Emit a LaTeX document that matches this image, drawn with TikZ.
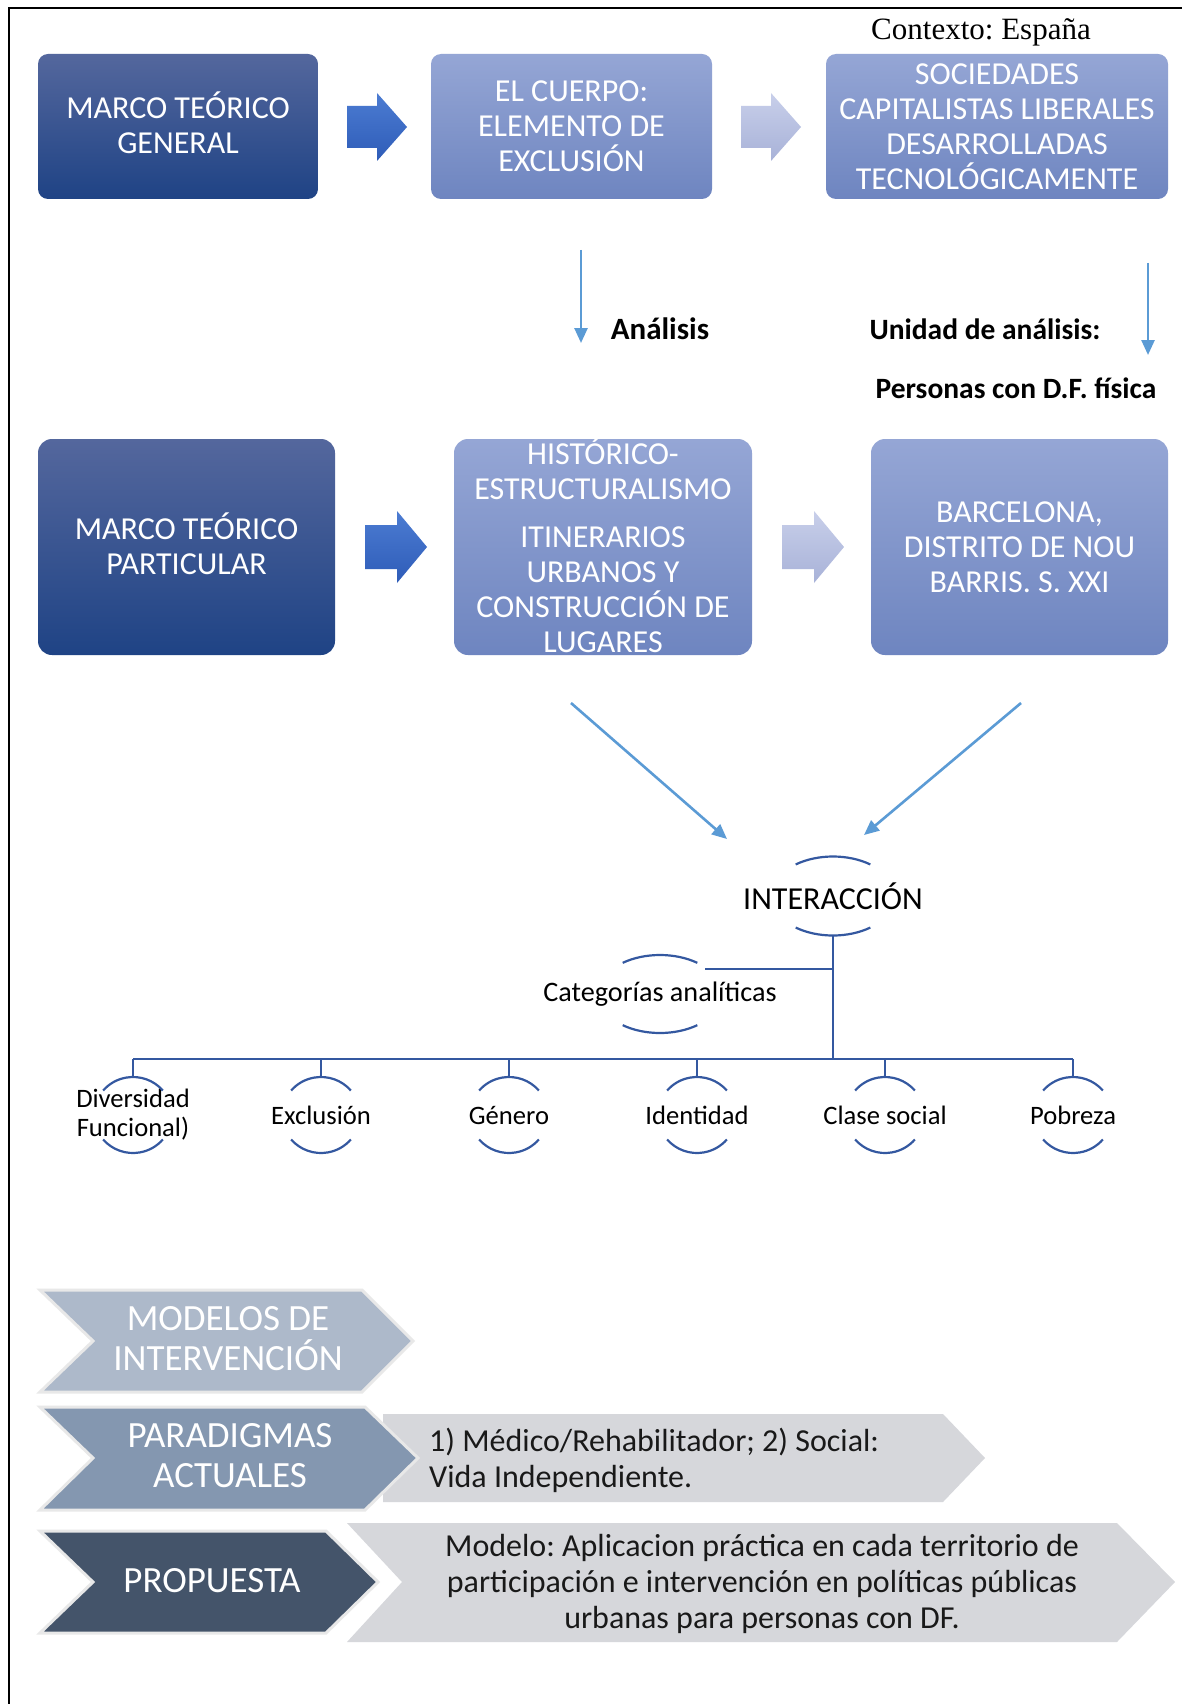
\documentclass[tikz,border=0pt]{standalone}
\usepackage{fontspec}
\setmainfont{Carlito}
\newfontfamily\timesfont{Liberation Serif}
\usetikzlibrary{arrows.meta,calc}
\frenchspacing

\definecolor{darkTop}{RGB}{84,103,157}
\definecolor{darkBot}{RGB}{31,67,133}
\definecolor{lightTop}{RGB}{149,166,213}
\definecolor{lightBot}{RGB}{110,133,192}
\definecolor{arrA}{RGB}{76,124,210}
\definecolor{arrB}{RGB}{46,92,184}
\definecolor{arrC}{RGB}{200,207,234}
\definecolor{arrD}{RGB}{168,178,216}
\definecolor{lineBlue}{RGB}{91,155,213}
\definecolor{treeBlue}{RGB}{52,88,160}
\definecolor{chevA}{RGB}{173,185,202}
\definecolor{chevB}{RGB}{132,151,176}
\definecolor{chevC}{RGB}{68,84,106}
\definecolor{chevGray}{RGB}{214,215,219}

\tikzset{
  boxdark/.style={rounded corners=10pt, top color=darkTop, bottom color=darkBot, text=white, align=center, font=\fontsize{32}{35}\selectfont, inner sep=0pt},
  boxlight/.style={rounded corners=10pt, top color=lightTop, bottom color=lightBot, text=white, align=center, font=\fontsize{32}{35}\selectfont, inner sep=0pt},
  boldlbl/.style={font=\bfseries\fontsize{29.5}{34}\selectfont, inner sep=0pt},
  conn/.style={draw=lineBlue, line width=2.6pt, -{Triangle[length=15pt,width=13pt]}},
  tree/.style={draw=treeBlue, line width=2.6pt},
  ovl/.style={draw=treeBlue, line width=2.2pt},
  chevline/.style={draw=black!9, line width=3pt, line join=miter},
  chevtext/.style={text=white, align=center, font=\fontsize{37}{40}\selectfont, inner sep=0pt},
  graytext/.style={text=black!90, font=\fontsize{32}{36}\selectfont, inner sep=0pt},
  treelbl/.style={font=\fontsize{32}{34}\selectfont, inner sep=0pt},
  childlbl/.style={font=\fontsize{26.6}{29}\selectfont, inner sep=0pt, align=center}
}

\newcommand{\ovalarcs}[4]{%
  \draw[ovl] ([shift={(#4:#2pt and #3pt)}]#1.center) arc[start angle=#4, end angle=180-#4, x radius=#2pt, y radius=#3pt];
  \draw[ovl] ([shift={(180+#4:#2pt and #3pt)}]#1.center) arc[start angle=180+#4, end angle=360-#4, x radius=#2pt, y radius=#3pt];
}

\begin{document}
\begin{tikzpicture}[x=1pt,y=-1pt]
\useasboundingbox (0,0) rectangle (1182,1704);
\fill[white] (0,0) rectangle (1182,1704);

% frame
\draw[line width=2pt] (9,1710) -- (9,8) -- (1190,8);

% context
\node[font=\timesfont\fontsize{31}{36}\selectfont, inner sep=0pt] (ctx) at (981,32) {Contexto: España};

% row 1
\node[boxdark, minimum width=280pt, minimum height=145pt] (b1) at (178,126.5) {};
\node[text=white, align=center, font=\fontsize{32}{35}\selectfont, inner sep=0pt] (b1t) at (178,123) {MARCO TEÓRICO\\GENERAL};
\node[boxlight, minimum width=281pt, minimum height=145pt] (b2) at (571.5,126.5) {EL CUERPO:\\ELEMENTO DE\\EXCLUSIÓN};
\node[boxlight, minimum width=342pt, minimum height=145pt] (b3) at (997,126.5) {SOCIEDADES\\CAPITALISTAS LIBERALES\\DESARROLLADAS\\TECNOLÓGICAMENTE};

\shade[top color=arrA, bottom color=arrB] (347,106) -- (377,106) -- (377,93) -- (407,127) -- (377,161) -- (377,148) -- (347,148) -- cycle;
\shade[top color=arrC, bottom color=arrD] (741,106) -- (771,106) -- (771,93) -- (801,127) -- (771,161) -- (771,148) -- (741,148) -- cycle;

% middle labels
\coordinate (d1s) at (581,250);
\coordinate (d1e) at (581,343);
\coordinate (d2s) at (1148,263);
\coordinate (d2e) at (1148,355);
\draw[conn] (d1s) -- (d1e);
\draw[conn] (d2s) -- (d2e);
\node[boldlbl, font=\bfseries\fontsize{31}{34}\selectfont] (an) at (660,329) {Análisis};
\node[boldlbl] (ua) at (985,329) {Unidad de análisis:};
\node[boldlbl] (pdf) at (1016,388) {Personas con D.F. física};

% row 2
\node[boxdark, rounded corners=14pt, minimum width=297pt, minimum height=216pt] (b4) at (186.5,547) {};
\node[text=white, align=center, font=\fontsize{32}{35}\selectfont, inner sep=0pt] (b4t) at (186.5,543.5) {MARCO TEÓRICO\\PARTICULAR};
\node[boxlight, rounded corners=14pt, minimum width=298pt, minimum height=216pt] (b5) at (603,547) {};
\node[boxlight, rounded corners=14pt, minimum width=297pt, minimum height=216pt] (b6) at (1019.5,547) {BARCELONA,\\DISTRITO DE NOU\\BARRIS. S. XXI};
\node[text=white, align=center, font=\fontsize{32}{35}\selectfont, inner sep=0pt] (b5t) at (603,545) {HISTÓRICO-\\ESTRUCTURALISMO\\[13pt]ITINERARIOS\\URBANOS Y\\CONSTRUCCIÓN DE\\LUGARES};

\shade[top color=arrA, bottom color=arrB] (365,525) -- (397,525) -- (397,511) -- (427,547) -- (397,583) -- (397,569) -- (365,569) -- cycle;
\shade[top color=arrC, bottom color=arrD] (782,525) -- (814,525) -- (814,511) -- (844,547) -- (814,583) -- (814,569) -- (782,569) -- cycle;

% diagonal arrows
\coordinate (g1s) at (571,703);
\coordinate (g1e) at (727,839);
\coordinate (g2s) at (1021,703);
\coordinate (g2e) at (864,835);
\draw[conn] (g1s) -- (g1e);
\draw[conn] (g2s) -- (g2e);

% tree
\node[treelbl] (interac) at (833,896) {INTERACCIÓN};
\node[font=\fontsize{28.2}{31}\selectfont, inner sep=0pt] (cat) at (660,994) {Categorías analíticas};
\node[childlbl] (c1) at (133,1115) {Diversidad\\Funcional)};
\node[childlbl] (c2) at (321,1115) {Exclusión};
\node[childlbl] (c3) at (509,1115) {Género};
\node[childlbl] (c4) at (697,1115) {Identidad};
\node[childlbl] (c5) at (885,1115) {Clase social};
\node[childlbl] (c6) at (1073,1115) {Pobreza};

\ovalarcs{interac}{62}{39.5}{53}
\ovalarcs{cat}{62}{39}{53}
\foreach \c in {c1,c2,c3,c4,c5,c6}{\ovalarcs{\c}{39}{38}{40}}

\coordinate (bar) at (833,1059);
\draw[tree] ($(interac.center)+(0,39.5)$) -- (bar);
\draw[tree] ($(cat.center)+(45,-25)$) -- ($(interac.center)+(0,73)$);
\draw[tree] (c1.center |- bar) -- (c6.center |- bar);
\foreach \c in {c1,c2,c3,c4,c5,c6}{\draw[tree] (\c.center |- bar) -- ($(\c.center)+(0,-38)$);}

% chevrons
\fill[chevGray] (383,1414) -- (943,1414) -- (985,1458) -- (943,1502) -- (383,1502) -- cycle;
\fill[chevGray] (347,1523) -- (1117,1523) -- (1175,1582) -- (1117,1642) -- (347,1642) -- (402,1582) -- cycle;
\draw[chevline, fill=chevA] (40,1290) -- (362,1290) -- (413,1341) -- (362,1392) -- (40,1392) -- (93,1341) -- cycle;
\draw[chevline, fill=chevB] (40,1407) -- (365,1407) -- (418,1458) -- (365,1510) -- (40,1510) -- (93,1458) -- cycle;
\draw[chevline, fill=chevC] (40,1531) -- (326,1531) -- (378,1582) -- (326,1633) -- (40,1633) -- (93,1582) -- cycle;

\node[chevtext] (t1) at (228,1339) {MODELOS DE\\INTERVENCIÓN};
\node[chevtext] (t2) at (230,1456) {PARADIGMAS\\ACTUALES};
\node[chevtext] (t3) at (212,1581) {PROPUESTA};
\node[graytext, anchor=west, align=left] (p1) at (429,1460) {1) Médico/Rehabilitador; 2) Social:\\Vida Independiente.};
\node[graytext, align=center] (p2) at (762,1584) {Modelo: Aplicacion práctica en cada territorio de\\participación e intervención en políticas públicas\\urbanas para personas con DF.};
\end{tikzpicture}
\end{document}
